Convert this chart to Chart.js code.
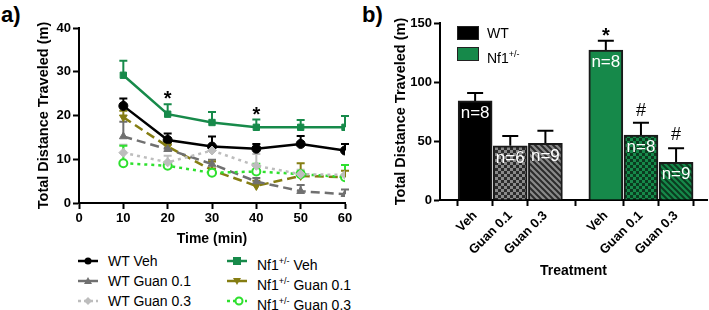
<!DOCTYPE html>
<html>
<head>
<meta charset="utf-8">
<script src="https://cdn.jsdelivr.net/npm/chart.js@4.4.1/dist/chart.umd.min.js"></script>
<style>
  body { margin: 0; background: #fff; width: 709px; height: 310px; overflow: hidden; position: relative;
         font-family: "Liberation Sans", Arial, sans-serif; color: #000; }
  .panel-tag { position: absolute; font-weight: bold; font-size: 22px; line-height: 22px; }
  .leg { position: absolute; font-size: 14px; line-height: 16px; white-space: nowrap; }
  .leg svg { position: absolute; left: -31px; top: 2px; }
  .leg sup { font-size: 9px; vertical-align: 6px; }
  .box { position: absolute; width: 20px; height: 12px; border: 1px solid #222; }
</style>
</head>
<body>
<div class="panel-tag" style="left:1px;top:4px;">a)</div>
<div class="panel-tag" style="left:362px;top:4px;">b)</div>
<div style="position:absolute;left:0;top:0;width:360px;height:250px;"><canvas id="lineChart"></canvas></div>
<div style="position:absolute;left:360px;top:0;width:349px;height:310px;"><canvas id="barChart"></canvas></div>

<!-- legend a) -->
<div class="leg" style="left:108px;top:253px;"><svg width="22" height="12"><line x1="1" y1="6" x2="21" y2="6" stroke="#000" stroke-width="2.5"/><circle cx="11" cy="6" r="3.5" fill="#000"/></svg>WT Veh</div>
<div class="leg" style="left:108px;top:273px;"><svg width="22" height="12"><line x1="1" y1="6" x2="21" y2="6" stroke="#707070" stroke-width="2.5"/><polygon points="11,2 15,9 7,9" fill="#707070"/></svg>WT Guan 0.1</div>
<div class="leg" style="left:108px;top:293px;"><svg width="22" height="12"><line x1="1" y1="6" x2="21" y2="6" stroke="#bdbdbd" stroke-width="2.5" stroke-dasharray="3,3"/><polygon points="11,2 15,6 11,10 7,6" fill="#bdbdbd"/></svg>WT Guan 0.3</div>
<div class="leg" style="left:257px;top:253px;"><svg width="22" height="12"><line x1="1" y1="6" x2="21" y2="6" stroke="#178a4a" stroke-width="2.5"/><rect x="7" y="2" width="8" height="8" fill="#178a4a"/></svg>Nf1<sup>+/-</sup> Veh</div>
<div class="leg" style="left:257px;top:273px;"><svg width="22" height="12"><line x1="1" y1="6" x2="21" y2="6" stroke="#857d12" stroke-width="2.5"/><polygon points="7,3 15,3 11,10" fill="#857d12"/></svg>Nf1<sup>+/-</sup> Guan 0.1</div>
<div class="leg" style="left:257px;top:293px;"><svg width="22" height="12"><line x1="1" y1="6" x2="21" y2="6" stroke="#2ee02e" stroke-width="2.5" stroke-dasharray="3,3"/><circle cx="13" cy="6" r="3.5" fill="#fff" stroke="#2ee02e" stroke-width="2"/></svg>Nf1<sup>+/-</sup> Guan 0.3</div>

<!-- legend b) -->
<div class="box" style="left:457px;top:26px;background:#000;"></div>
<div class="box" style="left:457px;top:47px;background:#16894a;"></div>
<div class="leg" style="left:487px;top:25px;">WT</div>
<div class="leg" style="left:487px;top:46px;">Nf1<sup>+/-</sup></div>

<script>
// ---- a) distance per 10-min bin ----
var times = [10, 20, 30, 40, 50, 60];
var wtVeh = [22.2, 14.4, 12.9, 12.4, 13.5, 12.0];
var wtVehErr = [1.7, 1.5, 2.3, 1.1, 1.8, 1.5];
var wtG01 = [15.2, 12.3, 8.9, 4.9, 2.7, 2.0];
var wtG01Err = [3.4, 1.0, 1.0, 0.8, 1.4, 1.1];
var wtG03 = [11.5, 9.3, 12.0, 8.5, 6.6, 6.4];
var wtG03Err = [1.8, 1.5, 1.3, 2.7, 1.0, 2.3];
var nfVeh = [29.2, 20.3, 18.4, 17.3, 17.3, 17.3];
var nfVehErr = [3.3, 2.3, 2.4, 1.8, 1.7, 2.6];
var nfG01 = [19.6, 12.9, 7.5, 3.9, 6.2, 5.9];
var nfG01Err = [1.5, 0.8, 2.0, 1.2, 2.9, 1.5];
var nfG03 = [9.1, 8.5, 6.9, 7.2, 6.6, 5.9];
var nfG03Err = [4.0, 0.8, 0.8, 1.8, 0.6, 2.8];
var lineStarsX = [20, 40];
var lineStarsY = [24.3, 20.8];

// ---- b) total distance ----
var treatLabels = ['Veh', 'Guan 0.1', 'Guan 0.3', 'Veh', 'Guan 0.1', 'Guan 0.3'];
var barPos = [1, 2, 3, 4.72, 5.72, 6.72];
var barVals = [84, 46, 48, 127, 55, 32];
var barErr = [6.6, 8.3, 10.7, 7.9, 10.5, 11.9];
var nLabels = ['n=8', 'n=6', 'n=9', 'n=8', 'n=8', 'n=9'];
var barMarks = ['', '', '', '*', '#', '#'];
var barMarkY = [0, 0, 0, 141, 75, 55];

var FONT = '"Liberation Sans", Arial, sans-serif';

function toPts(xs, ys) {
  return xs.map(function (x, i) { return { x: x, y: ys[i] }; });
}

function makeChecker(c1, c2, s) {
  var cv = document.createElement('canvas');
  cv.width = 2 * s; cv.height = 2 * s;
  var c = cv.getContext('2d');
  c.fillStyle = c1; c.fillRect(0, 0, 2 * s, 2 * s);
  c.fillStyle = c2; c.fillRect(0, 0, s, s); c.fillRect(s, s, s, s);
  return c.createPattern(cv, 'repeat');
}

function makeStripes(bg, fg, s) {
  var cv = document.createElement('canvas');
  cv.width = s; cv.height = s;
  var c = cv.getContext('2d');
  c.fillStyle = bg; c.fillRect(0, 0, s, s);
  c.strokeStyle = fg; c.lineWidth = 2;
  c.beginPath();
  c.moveTo(-1, -1); c.lineTo(s + 1, s + 1);
  c.moveTo(-1, s - 1); c.lineTo(1, s + 1);
  c.moveTo(s - 1, -1); c.lineTo(s + 1, 1);
  c.stroke();
  return c.createPattern(cv, 'repeat');
}

// error bars (upper only) drawn from per-dataset err arrays
var errorBars = {
  id: 'errorBars',
  beforeDatasetsDraw: function (chart, args, opts) {
    var ctx = chart.ctx;
    var ys = chart.scales.y;
    ctx.save();
    chart.data.datasets.forEach(function (ds, di) {
      if (!ds.err) return;
      var meta = chart.getDatasetMeta(di);
      ctx.strokeStyle = ds.errColor || ds.borderColor;
      ctx.lineWidth = 2;
      meta.data.forEach(function (el, i) {
        var v = ds.data[i].y;
        var top = ys.getPixelForValue(v + ds.err[i]);
        var x = el.x;
        ctx.beginPath();
        ctx.moveTo(x, el.y);
        ctx.lineTo(x, top);
        ctx.moveTo(x - opts.cap, top);
        ctx.lineTo(x + opts.cap, top);
        ctx.stroke();
      });
    });
    ctx.restore();
  }
};

var lineMarks = {
  id: 'lineMarks',
  afterDatasetsDraw: function (chart) {
    var ctx = chart.ctx;
    ctx.save();
    ctx.fillStyle = '#000';
    ctx.font = 'bold 20px ' + FONT;
    ctx.textAlign = 'center';
    ctx.textBaseline = 'middle';
    lineStarsX.forEach(function (x, i) {
      ctx.fillText('*', chart.scales.x.getPixelForValue(x), chart.scales.y.getPixelForValue(lineStarsY[i]) + 3);
    });
    ctx.restore();
  }
};

var barMarksPlugin = {
  id: 'barMarks',
  afterDatasetsDraw: function (chart) {
    var ctx = chart.ctx;
    var meta = chart.getDatasetMeta(0);
    ctx.save();
    ctx.textAlign = 'center';
    meta.data.forEach(function (el, i) {
      ctx.fillStyle = '#fff';
      ctx.font = '17px ' + FONT;
      ctx.textBaseline = 'top';
      ctx.fillText(nLabels[i], el.x, el.y + 4);
      if (barMarks[i]) {
        ctx.fillStyle = '#000';
        ctx.textBaseline = 'middle';
        ctx.font = (barMarks[i] === '*' ? 'bold 20px ' : '18px ') + FONT;
        ctx.fillText(barMarks[i], el.x, chart.scales.y.getPixelForValue(barMarkY[i]) + (barMarks[i] === '*' ? 3 : 0));
      }
    });
    ctx.restore();
  }
};

function axisStyle() {
  return {
    border: { display: true, color: '#000', width: 2 },
    grid: { display: true, drawOnChartArea: false, drawTicks: true, tickLength: 6, tickColor: '#000', tickWidth: 2 },
    ticks: { color: '#000', font: { family: FONT, size: 13, weight: 'bold' }, padding: 2 }
  };
}

function lineDs(label, ys, err, color, dash, style, extra) {
  var d = {
    label: label,
    data: toPts(times, ys),
    err: err,
    borderColor: color,
    backgroundColor: color,
    pointBackgroundColor: color,
    pointBorderColor: color,
    borderWidth: 2.5,
    borderDash: dash,
    pointStyle: style,
    pointRadius: 4.5,
    pointBorderWidth: 1,
    tension: 0
  };
  for (var k in extra) d[k] = extra[k];
  return d;
}

var ya = axisStyle();
ya.min = 0; ya.max = 40;
ya.ticks.stepSize = 10;
ya.title = { display: true, text: 'Total Distance Traveled (m)', color: '#000', font: { family: FONT, size: 14.5, weight: 'bold' }, padding: { top: 0, bottom: 0 } };
ya.afterFit = function (s) { s.width = 44; };

var xa = axisStyle();
xa.type = 'linear'; xa.min = 0; xa.max = 60;
xa.ticks.stepSize = 10;
xa.title = { display: true, text: 'Time (min)', color: '#000', font: { family: FONT, size: 14, weight: 'bold' }, padding: { top: 0, bottom: 2 } };
xa.afterFit = function (s) { s.height = 47; };

new Chart(document.getElementById('lineChart'), {
  type: 'line',
  data: {
    datasets: [
      lineDs('WT Guan 0.3', wtG03, wtG03Err, '#bdbdbd', [3, 4], 'rectRot', {}),
      lineDs('Nf1 Guan 0.3', nfG03, nfG03Err, '#2ee02e', [3, 4], 'circle', { pointBackgroundColor: '#fff', pointBorderWidth: 2, pointRadius: 4 }),
      lineDs('WT Guan 0.1', wtG01, wtG01Err, '#707070', [9, 5], 'triangle', {}),
      lineDs('Nf1 Guan 0.1', nfG01, nfG01Err, '#857d12', [9, 5], 'triangle', { pointRotation: 180 }),
      lineDs('WT Veh', wtVeh, wtVehErr, '#000', [], 'circle', {}),
      lineDs('Nf1 Veh', nfVeh, nfVehErr, '#178a4a', [], 'rect', {})
    ]
  },
  options: {
    responsive: true,
    maintainAspectRatio: false,
    animation: false,
    layout: { padding: { left: 35, right: 15, top: 28, bottom: 0 } },
    plugins: { legend: { display: false }, tooltip: { enabled: false }, errorBars: { cap: 4 } },
    scales: { x: xa, y: ya }
  },
  plugins: [errorBars, lineMarks]
});

// ---- bar chart ----
var wtGrey = '#8a8a8a';
var nfGreen = '#16894a';
var barFills = [
  '#000',
  makeChecker('#2b2b2b', wtGrey, 3),
  makeStripes(wtGrey, '#2b2b2b', 6),
  nfGreen,
  makeChecker('#0b3b1f', nfGreen, 3),
  makeStripes(nfGreen, '#0b3b1f', 6)
];

var yb = axisStyle();
yb.min = 0; yb.max = 150;
yb.ticks.stepSize = 50;
yb.title = { display: true, text: 'Total Distance Traveled (m)', color: '#000', font: { family: FONT, size: 14.5, weight: 'bold' }, padding: { top: 0, bottom: 0 } };
yb.afterFit = function (s) { s.width = 48; };

var xb = axisStyle();
xb.type = 'linear'; xb.min = 0; xb.max = 7.6; xb.offset = false;
xb.afterBuildTicks = function (s) { s.ticks = barPos.map(function (v) { return { value: v }; }); };
xb.ticks.autoSkip = false;
xb.ticks.minRotation = 45; xb.ticks.maxRotation = 45;
xb.ticks.callback = function (v, i) { return treatLabels[i]; };
xb.title = { display: true, text: 'Treatment', color: '#000', font: { family: FONT, size: 14, weight: 'bold' }, padding: { top: 0, bottom: 2 } };
xb.afterFit = function (s) { s.height = 82; };

new Chart(document.getElementById('barChart'), {
  type: 'bar',
  data: {
    datasets: [{
      data: toPts(barPos, barVals),
      err: barErr,
      errColor: '#000',
      backgroundColor: barFills,
      borderColor: '#1a1a1a',
      borderWidth: 2,
      borderSkipped: 'bottom',
      barThickness: 34
    }]
  },
  options: {
    responsive: true,
    maintainAspectRatio: false,
    animation: false,
    layout: { padding: { left: 32, right: 2, top: 23, bottom: 28 } },
    plugins: { legend: { display: false }, tooltip: { enabled: false }, errorBars: { cap: 8 } },
    scales: { x: xb, y: yb }
  },
  plugins: [errorBars, barMarksPlugin]
});
</script>
</body>
</html>
